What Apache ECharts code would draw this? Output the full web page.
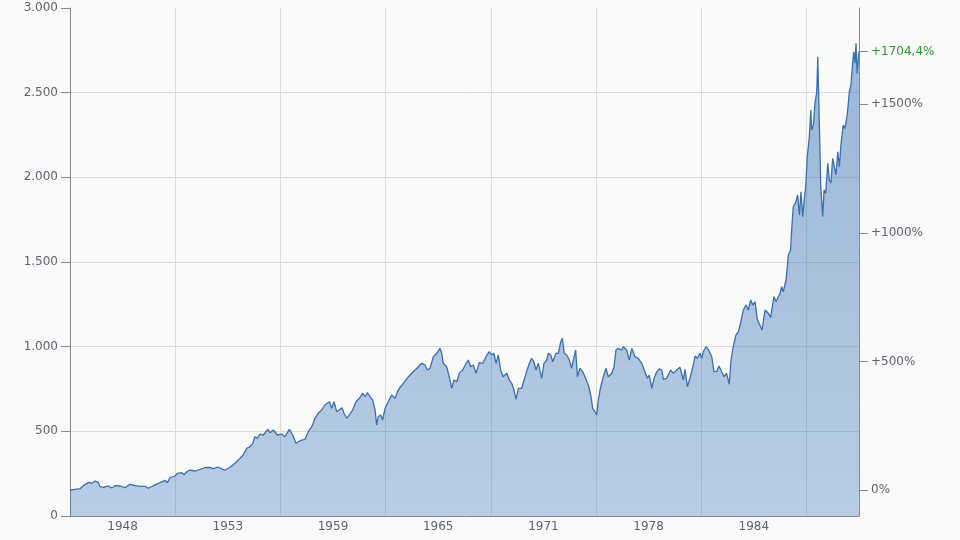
<!DOCTYPE html>
<html>
<head>
<meta charset="utf-8">
<script src="https://cdn.jsdelivr.net/npm/echarts@6/dist/echarts.min.js"></script>
<style>
html,body{margin:0;padding:0;background:#fafafa;}
#c{width:960px;height:540px;}
</style>
</head>
<body>
<div id="c"></div>
<script>
// years since start of data (Jan 1945)
const t = [0,0.29,0.57,0.67,0.86,1.10,1.24,1.43,1.61,1.71,1.90,2.18,2.38,2.57,2.85,3.14,3.42,3.71,3.99,4.28,4.47,4.75,5.13,5.42,5.55,5.70,5.99,6.12,6.37,6.50,6.66,6.84,
7.13,7.41,7.70,7.98,8.17,8.44,8.67,8.84,9.13,9.41,9.70,9.88,10.08,10.27,10.42,10.55,10.68,10.84,11.03,11.28,11.41,11.60,11.82,12.07,12.26,12.51,12.70,12.89,13.12,
13.40,13.59,13.79,13.97,14.16,14.36,14.54,14.64,14.79,14.93,15.06,15.21,15.36,15.51,15.63,15.78,15.93,16.12,16.31,16.50,16.69,16.83,16.96,17.11,17.26,17.40,17.49,17.58,17.72,17.83,17.97,
18.15,18.35,18.54,18.72,19.01,19.30,19.49,19.68,19.87,20.06,20.25,20.38,20.53,20.72,20.92,21.10,21.20,21.29,21.48,21.63,21.77,21.90,22.06,22.20,22.40,22.59,22.72,22.85,23.00,23.16,23.34,23.54,23.73,23.91,24.05,24.18,24.30,24.43,24.56,24.71,24.91,25.06,25.19,25.32,25.44,25.57,25.76,
26.01,26.20,26.33,26.46,26.58,26.71,26.90,27.03,27.19,27.28,27.42,27.53,27.72,27.85,27.99,28.08,28.19,28.33,28.48,28.61,28.71,28.84,28.94,29.09,29.24,29.37,29.56,29.70,29.81,29.94,30.04,30.13,30.27,30.42,30.57,30.70,30.90,31.03,31.14,31.27,31.46,31.56,31.75,31.90,32.04,32.22,32.41,32.61,32.79,32.93,33.04,33.18,33.31,33.46,33.61,33.75,33.84,34.03,34.26,34.41,34.60,34.79,34.98,35.08,35.21,35.36,35.55,35.65,35.78,35.93,36.03,36.12,36.27,36.40,36.50,36.60,36.73,36.88,37.01,37.17,37.30,37.45,37.60,37.70,37.83,37.98,38.12,38.25,38.40,38.56,38.69,38.82,38.94,39.07,39.20,39.31,39.47,39.64,39.83,39.96,40.15,
40.27,40.40,40.50,40.59,40.68,40.84,40.97,41.10,41.16,41.25,41.40,41.50,41.60,41.69,41.79,41.88,41.96,42.05,42.17,42.25,42.30,42.40,42.49,42.59,42.65,42.68,42.74,42.82,42.87,42.93,43.01,43.10,43.22,43.31,43.40,43.50,43.59,43.69,43.79,43.88,43.97,44.10,44.20,44.33,44.45,44.54,44.62,44.70,44.77,44.83,44.89,44.96,45.00];
const values = [152,157.7,161.2,173,187.2,199,193.1,206.7,199,173,169.5,177.2,165.3,178.9,177.2,167.1,187.2,178.9,175.4,175.4,163.6,178.9,196.6,210.8,196.6,226.2,236.2,252.1,255.7,243.9,261.6,271.6,
265.7,274.6,286.4,287.6,279.3,289.3,277.5,271.6,287.6,311.2,340.7,360.2,399.8,409.2,429.3,468.3,458.8,484.2,478.3,512,491.9,507.8,478.3,484.2,468.3,512,478.3,429.3,444.6,
452.9,497.8,527.3,576.9,606.5,625.9,655.5,645.4,674.9,636,674.9,615.9,625.9,639.5,606.5,576.9,596.4,625.9,674.9,695,724.5,704.5,728.1,704.5,685,625.9,537.4,586.4,596.4,566.9,636,
674.9,714.5,695,744,783.6,822.6,842.6,862.1,881.6,901.7,891.7,862.1,872.2,940.7,960.7,990.3,960.7,901.7,881.6,822.6,754.1,803.1,793,842.6,862.1,901.7,921.2,881.6,891.7,842.6,905.2,901.7,940.7,970.2,950.7,960.7,901.7,950.7,862.1,822.6,842.6,803.1,783.6,744,689.1,754.1,754.1,
842.6,901.7,931.2,909.4,862.1,901.7,813.1,901.7,921.2,960.7,950.7,911.1,960.7,960.7,1029.2,1049.3,960.7,950.7,921.2,872.2,921.2,980.2,822.6,872.2,852.1,822.6,773.6,714.5,636,615.9,596.4,685,763.5,822.6,872.2,822.6,842.6,881.6,980.2,990.3,980.2,999.7,980.2,921.2,990.3,940.7,931.2,901.7,852.1,813.1,832.6,754.1,813.1,850.3,868.6,862.1,807.2,813.1,862.1,842.6,862.1,878.1,803.1,866.3,763.5,813.1,891.7,944.8,931.2,960.7,931.2,970.2,999.7,984.4,990.3,940.7,852.1,852.1,885.8,852.1,822.6,842.6,777.7,921.2,999.7,1068.8,1088.3,1141.4,1216.4,1246,1216.4,1275.5,1246,1265.4,1161.5,1157.4,1098.3,1216.4,1197,1173.3,1295,
1265.4,1295,1315,1354,1324.5,1393.6,1541.2,1570.7,1688.8,1826.4,1855.9,1895.5,1777.4,1915,1767.4,1869.5,1944.5,2121.7,2239.8,2397.4,2279.3,2308.9,2437,2505.5,2712.2,2574.6,2564.6,1944.5,1935.1,1767.4,1925,1905.5,2082.7,1984.1,1964.6,2112.3,2121.7,2013.6,2151.2,2062.6,2190.8,2308.9,2289.4,2367.9,2505.5,2545,2653.2,2741.7,2673.2,2791.3,2614.2,2702.7,2742.7];

const xLabelPos = [3, 9, 15, 21, 27, 33, 39];
const xLabelText = ['1948', '1953', '1959', '1965', '1971', '1978', '1984'];
const pctTicks = [0, 500, 1000, 1500];

const base = values[0];
const last = values[values.length - 1];
const rightTickValues = pctTicks.map(p => base * (1 + p / 100)).concat([last]);

const data = t.map((x, i) => [x, values[i]]);

const font = '"DejaVu Sans", Verdana, sans-serif';
const chart = echarts.init(document.getElementById('c'), null, {renderer: 'canvas'});
chart.setOption({
  animation: false,
  backgroundColor: '#fafafa',
  grid: {left: 70, right: 101, top: 8, bottom: 24, containLabel: false},
  xAxis: {
    type: 'value', min: 0, max: 45, interval: 6,
    axisLine: {show: true, lineStyle: {color: '#8a8a8a', width: 1}},
    axisTick: {show: false},
    axisLabel: {
      customValues: xLabelPos,
      formatter: v => { const i = xLabelPos.indexOf(v); return i >= 0 ? xLabelText[i] : ''; },
      color: '#5f6470', fontFamily: font, fontSize: 12, margin: 5
    },
    splitLine: {show: true, showMinLine: false, showMaxLine: false, lineStyle: {color: '#dcdcdc', width: 1}}
  },
  yAxis: [{
    type: 'value', min: 0, max: 3000, interval: 500, position: 'left',
    axisLine: {show: true, lineStyle: {color: '#8a8a8a', width: 1}},
    axisTick: {show: true, length: 9, lineStyle: {color: '#8a8a8a'}},
    axisLabel: {
      color: '#5f6470', fontFamily: font, fontSize: 12, margin: 12,
      formatter: v => v.toString().replace(/\B(?=(\d{3})+(?!\d))/g, '.')
    },
    splitLine: {show: true, showMinLine: false, showMaxLine: false, lineStyle: {color: '#dcdcdc', width: 1}}
  }, {
    type: 'value', min: 0, max: 3000, position: 'right',
    axisLine: {show: true, lineStyle: {color: '#8a8a8a', width: 1}},
    axisTick: {show: true, length: 9, customValues: rightTickValues, lineStyle: {color: '#8a8a8a'}},
    axisLabel: {
      customValues: rightTickValues,
      color: '#5f6470', fontFamily: font, fontSize: 12, margin: 12,
      formatter: v => {
        const p = (v / base - 1) * 100;
        if (Math.abs(v - last) < 1e-6) {
          return '{g|+' + p.toFixed(1).replace('.', ',') + '%}';
        }
        const r = Math.round(p);
        return (r > 0 ? '+' : '') + r + '%';
      },
      rich: {g: {color: '#2a9a2a', fontFamily: font, fontSize: 12}}
    },
    splitLine: {show: false}
  }],
  series: [{
    type: 'line',
    data: data,
    showSymbol: false,
    symbol: 'none',
    lineStyle: {color: '#3a70b0', width: 1.3},
    areaStyle: {
      opacity: 1,
      color: new echarts.graphic.LinearGradient(0, 0, 0, 1, [
        {offset: 0, color: 'rgba(50,110,180,0.48)'},
        {offset: 1, color: 'rgba(50,110,180,0.33)'}
      ])
    },
    z: 2
  }]
});
</script>
</body>
</html>
